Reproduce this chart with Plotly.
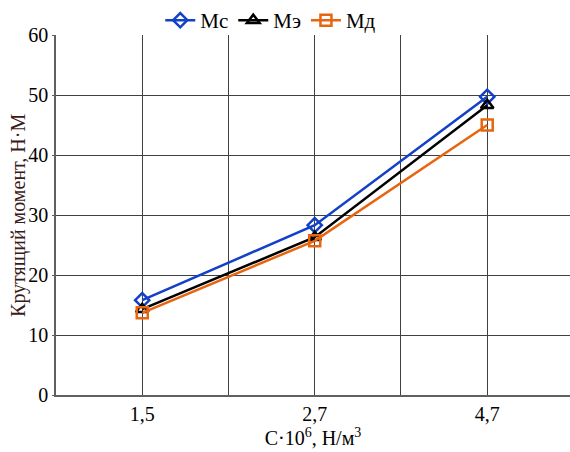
import plotly.graph_objects as go

# Stiffness values (C·10^6, N/m^3) and torque series (N·m)
categories = ["1,5", "2,7", "4,7"]
m_c = [15.8, 28.3, 49.7]
m_e = [14.3, 26.3, 48.3]
m_d = [13.7, 25.7, 45.0]

# categories sit on every second grid column
x_pos = [2 * i + 1 for i in range(len(categories))]

font_family = "Liberation Serif, Times New Roman, serif"

series = [
    ("Мс", m_c, "#1240c8", "diamond-open"),
    ("Мэ", m_e, "#000000", "triangle-up-open"),
    ("Мд", m_d, "#e8650f", "square-open"),
]

fig = go.Figure()
for name, vals, color, symbol in series:
    fig.add_trace(go.Scatter(
        x=x_pos, y=vals, name=name, mode="lines+markers",
        line=dict(color=color, width=2.5),
        marker=dict(symbol=symbol, size=11, color=color,
                    line=dict(color=color, width=2.5)),
    ))

grid_vals = list(range(0, 7))
grid_text = [""] * len(grid_vals)
for p, c in zip(x_pos, categories):
    grid_text[p] = c

fig.update_layout(
    width=570, height=452,
    margin=dict(l=56, r=0, t=35, b=57, autoexpand=False),
    paper_bgcolor="white", plot_bgcolor="white",
    font=dict(family=font_family, size=20, color="#000000"),
    showlegend=True,
    legend=dict(orientation="h", xref="container", yref="container",
                x=0.475, xanchor="center", y=1.0, yanchor="top",
                font=dict(size=21), itemwidth=30, tracegroupgap=0,
                bgcolor="rgba(0,0,0,0)"),
    xaxis=dict(
        range=[0, 5.96], tickmode="array", tickvals=grid_vals, ticktext=grid_text,
        showgrid=True, gridcolor="#404040", gridwidth=1,
        showline=True, linecolor="#606060", linewidth=1.5,
        zeroline=False, ticks="", tickfont=dict(size=20),
        title=dict(text="C·10<sup>6</sup>, Н/м<sup>3</sup>", standoff=2,
                   font=dict(size=20)),
    ),
    yaxis=dict(
        range=[0, 60], tickmode="linear", tick0=0, dtick=10,
        showgrid=True, gridcolor="#404040", gridwidth=1,
        showline=True, linecolor="#606060", linewidth=1.5,
        zeroline=False, ticks="outside", ticklen=2, tickcolor="#606060",
        tickfont=dict(size=20),
    ),
)

# vertical axis caption placed in the left margin
fig.add_annotation(
    text="Крутящий момент, Н·М", textangle=-90,
    xref="paper", yref="paper", x=-0.074, y=0.5,
    xanchor="center", yanchor="middle", showarrow=False,
    font=dict(size=20, color="#3a1a1a"),
)

fig.write_html("out.html")
